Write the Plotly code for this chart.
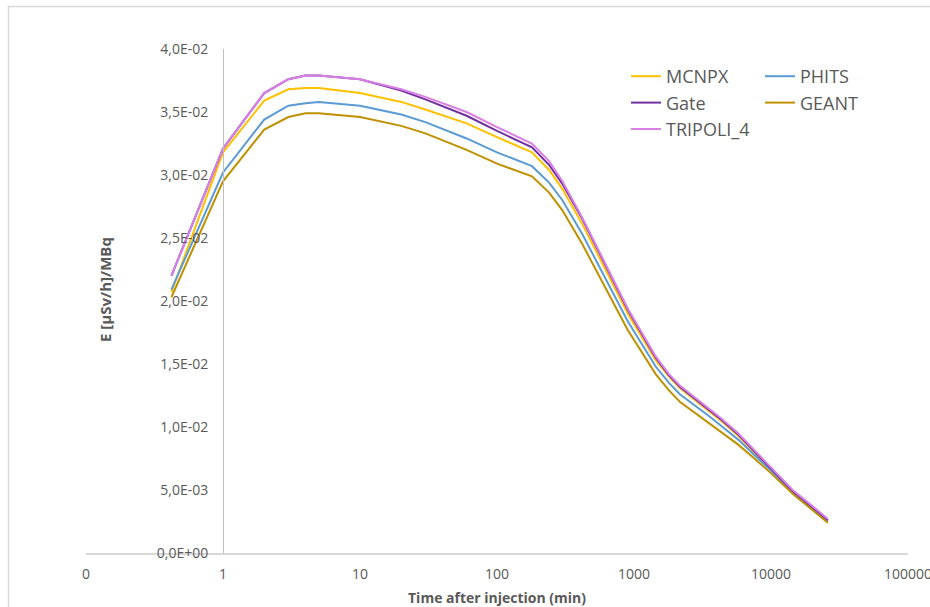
import plotly.graph_objects as go

# Time after injection (min)
time_min = [0.42, 1, 2, 3, 4, 5, 10, 20, 30, 60, 100, 180, 240, 300, 420, 600,
            900, 1440, 1800, 2160, 2880, 3600, 4320, 5760, 7200, 10080, 14400, 20160, 26000]

# Ambient dose-equivalent rate per activity, E [uSv/h]/MBq
mcnpx = [0.0207, 0.0318, 0.0359, 0.0368, 0.0369, 0.0369, 0.0365, 0.0358, 0.0352, 0.0341,
         0.0330, 0.0318, 0.0304, 0.0289, 0.0261, 0.0228, 0.0190, 0.0153, 0.0140, 0.0131,
         0.0120, 0.0112, 0.0105, 0.0093, 0.0082, 0.0066, 0.0049, 0.0036, 0.0026]
phits = [0.0209, 0.0302, 0.0344, 0.0355, 0.0357, 0.0358, 0.0355, 0.0348, 0.0342, 0.0329,
         0.0318, 0.0307, 0.0294, 0.0280, 0.0253, 0.0221, 0.0184, 0.0148, 0.0135, 0.0126,
         0.0116, 0.0108, 0.0101, 0.0090, 0.0080, 0.0065, 0.0048, 0.0035, 0.0025]
gate = [0.0220, 0.0321, 0.0365, 0.0376, 0.0379, 0.0379, 0.0376, 0.0367, 0.0360, 0.0347,
        0.0335, 0.0322, 0.0308, 0.0293, 0.0265, 0.0231, 0.0193, 0.0155, 0.0141, 0.0132,
        0.0121, 0.0113, 0.0106, 0.0094, 0.0083, 0.0067, 0.0049, 0.0036, 0.0026]
geant = [0.0203, 0.0295, 0.0336, 0.0346, 0.0349, 0.0349, 0.0346, 0.0339, 0.0333, 0.0320,
         0.0309, 0.0299, 0.0286, 0.0272, 0.0245, 0.0213, 0.0177, 0.0142, 0.0129, 0.0120,
         0.0110, 0.0102, 0.0096, 0.0086, 0.0077, 0.0063, 0.0047, 0.0034, 0.0024]
tripoli = [0.0220, 0.0321, 0.0365, 0.0376, 0.0379, 0.0379, 0.0376, 0.0368, 0.0362, 0.0350,
           0.0338, 0.0325, 0.0311, 0.0295, 0.0266, 0.0232, 0.0194, 0.0156, 0.0142, 0.0133,
           0.0122, 0.0114, 0.0107, 0.0095, 0.0084, 0.0068, 0.0050, 0.0037, 0.0027]

x_tick_vals = [0.1, 1, 10, 100, 1000, 10000, 100000]
x_tick_text = ["0", "1", "10", "100", "1000", "10000", "100000"]
y_tick_vals = [0, 0.005, 0.01, 0.015, 0.02, 0.025, 0.03, 0.035, 0.04]
y_tick_text = [f"{v:.1E}".replace(".", ",") for v in y_tick_vals]

# (name, values, colour, legend column)
series = [
    ("MCNPX", mcnpx, "#FFC000", "legend"),
    ("PHITS", phits, "#5B9BD5", "legend2"),
    ("Gate", gate, "#7030A0", "legend"),
    ("GEANT", geant, "#BF9000", "legend2"),
    ("TRIPOLI_4", tripoli, "#DA7FE6", "legend"),
]

TEXT = "#595959"
FONT = "Open Sans"

fig = go.Figure()
for name, vals, color, leg in series:
    fig.add_trace(go.Scatter(
        x=time_min, y=vals, name=name, mode="lines",
        line=dict(color=color, width=2),
        legend=leg,
    ))

# pixel geometry of the plotting area
W, H = 930, 607
L, R, T, B = 86, 22, 49, 54
pw, ph = W - L - R, H - T - B


def px_x(px):
    return (px - L) / pw


def px_y(py):
    return (H - B - py) / ph


legend_style = dict(
    font=dict(family=FONT, size=18, color=TEXT),
    bgcolor="rgba(0,0,0,0)", borderwidth=0,
    xanchor="left", yanchor="top", tracegroupgap=0, itemwidth=30,
)

fig.update_layout(
    width=W, height=H,
    margin=dict(l=L, r=R, t=T, b=B, autoexpand=False),
    paper_bgcolor="white", plot_bgcolor="white",
    font=dict(family=FONT, color=TEXT),
    legend=dict(x=px_x(626), y=px_y(58), **legend_style),
    legend2=dict(x=px_x(760), y=px_y(58), **legend_style),
    xaxis=dict(
        type="log", range=[-1, 5],
        tickvals=x_tick_vals, ticktext=x_tick_text,
        tickfont=dict(family=FONT, size=14, color=TEXT),
        showgrid=False, zeroline=False, automargin=False,
        showline=True, linecolor="#D9D9D9", linewidth=1.5,
        ticks="", ticklabelstandoff=7, ticklabeloverflow="allow",
    ),
    yaxis=dict(
        range=[0, 0.04],
        tickvals=y_tick_vals, ticktext=y_tick_text,
        tickfont=dict(family=FONT, size=14, color=TEXT),
        showgrid=False, zeroline=False, automargin=False,
        showline=True, linecolor="#BFBFBF", linewidth=1,
        anchor="free", position=1 / 6,
        ticks="", ticklabelstandoff=12,
    ),
    annotations=[
        dict(text="<b>Time after injection (min)</b>", xref="paper", yref="paper",
             x=0.5, y=px_y(597), xanchor="center", yanchor="middle", showarrow=False,
             font=dict(family=FONT, size=14, color=TEXT)),
        dict(text="<b>E [µSv/h]/MBq</b>", xref="paper", yref="paper",
             x=px_x(105), y=px_y(290), xanchor="center", yanchor="middle", showarrow=False,
             textangle=-90, font=dict(family=FONT, size=15, color=TEXT)),
    ],
    shapes=[
        dict(type="rect", xref="paper", yref="paper",
             x0=px_x(8.5), x1=px_x(940), y0=px_y(615), y1=px_y(6.5),
             line=dict(color="#D9D9D9", width=1.5), fillcolor="rgba(0,0,0,0)",
             layer="below"),
    ],
)

fig.write_html("out.html")
